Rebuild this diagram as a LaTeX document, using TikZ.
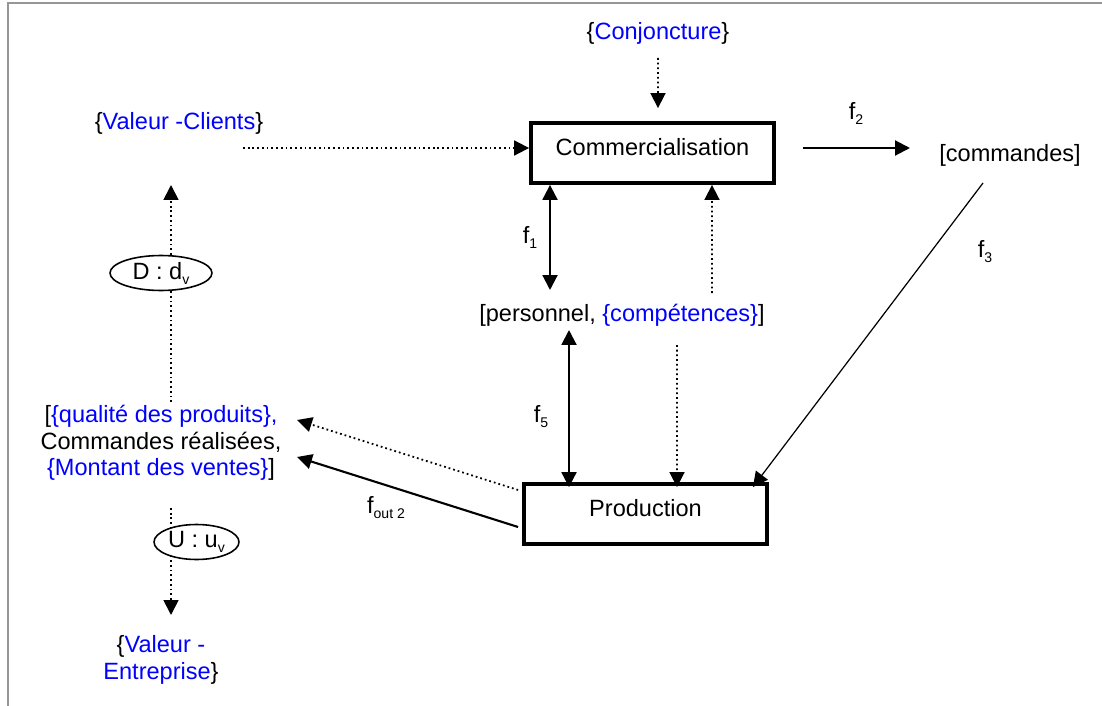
\documentclass[tikz,border=0pt]{standalone}
\usepackage{fontspec}
\setmainfont{Liberation Sans}
\usetikzlibrary{arrows.meta,shapes.geometric,calc}
\definecolor{valblue}{RGB}{0,0,255}
\definecolor{framegray}{RGB}{150,150,150}
\newcommand\fsub[1]{\raisebox{-0.4ex}{\fontsize{8}{8}\selectfont #1}}
\newcommand\blu[1]{\textcolor{valblue}{#1}}
\tikzset{
  procbox/.style={draw,line width=2.2pt,minimum width=4.86cm,minimum height=1.2cm,text depth=7pt},
  dotarr/.style={-{Triangle[length=8.5pt,width=8.5pt]},line width=1pt,dash pattern=on 1pt off 1.7pt},
  solarr/.style={-{Triangle[length=8.5pt,width=8.5pt]},line width=1.2pt},
  twoway/.style={{Triangle[length=8.5pt,width=8.5pt]}-{Triangle[length=8.5pt,width=8.5pt]},line width=1.2pt},
  evalnode/.style={ellipse,draw,fill=white,line width=0.9pt,inner sep=0pt,minimum height=0.7cm}
}
\begin{document}
\begin{tikzpicture}[x=0.02cm,y=-0.02cm,font=\fontsize{13.4}{15}\selectfont]
\useasboundingbox (0,0) rectangle (1102,706);
\draw[framegray,line width=1.2pt] (8,706) -- (8,3) -- (1102,3);

\node (conj) at (658,33) {\{\blu{Conjoncture}\}};
\node[procbox] (comm) at (652.5,153) {Commercialisation};
\node (vclient) at (179,123) {\{\blu{Valeur -Clients}\}};
\node (cmd) at (1010,155) {[commandes]};
\node (pers) at (622,315) {[personnel, \blu{\{compétences\}}]};
\node[procbox] (prod) at (645.5,514) {Production};
\node[align=center] (outp) at (161,443) {[\blu{\{qualité des produits\},}\\Commandes réalisées,\\\blu{\{Montant des ventes\}}]};
\node[align=center] (vent) at (161,660) {\{\blu{Valeur -}\\\blu{Entreprise}\}};

\node (lf1) at (530,237) {f\fsub{1}};
\node (lf2) at (856,113) {f\fsub{2}};
\node (lf3) at (985,252) {f\fsub{3}};
\node (lf5) at (541,417) {f\fsub{5}};
\node (lfout) at (386,508) {f\fsub{out 2}};

\draw[dotarr] ($(conj)+(0,25)$) -- ($(comm.north)+(5.5,-13)$);
\draw[dotarr] ($(vclient)+(64,25)$) -- ($(comm.west)+(0,-5)$);
\draw[solarr] ($(comm.east)+(27,-5)$) -- ($(cmd)+(-100,-7)$);
\draw[-{Triangle[length=8.5pt,width=8.5pt]},line width=0.7pt] ($(cmd)+(-27,28)$) -- ($(prod.north east)+(-16,5)$);
\draw[twoway] ($(comm.south)+(-102.5,0)$) -- ($(pers)+(-72,-25)$);
\draw[dotarr] ($(pers)+(90,-22)$) -- ($(comm.south)+(59.5,0)$);
\draw[twoway] ($(pers)+(-53,15)$) -- ($(prod.north)+(-76.5,5)$);
\draw[dotarr] ($(pers)+(55,30)$) -- ($(prod.north)+(31.5,5)$);
\draw[solarr] ($(prod.west)+(-4,13)$) -- ($(outp)+(136,14)$);
\draw[dotarr] ($(prod.west)+(-4,-24)$) -- ($(outp)+(136,-23)$);
\draw[dotarr] ($(outp)+(10,-41)$) -- ($(vclient)+(-8,62)$);
\draw[dotarr] ($(outp)+(10,65)$) -- ($(vent)+(10,-45)$);

\node[evalnode,minimum width=2.04cm] (dv) at (161,273) {D : d\fsub{v}};
\node[evalnode,minimum width=1.7cm] (uv) at (196.5,542) {U : u\fsub{v}};

\end{tikzpicture}
\end{document}
